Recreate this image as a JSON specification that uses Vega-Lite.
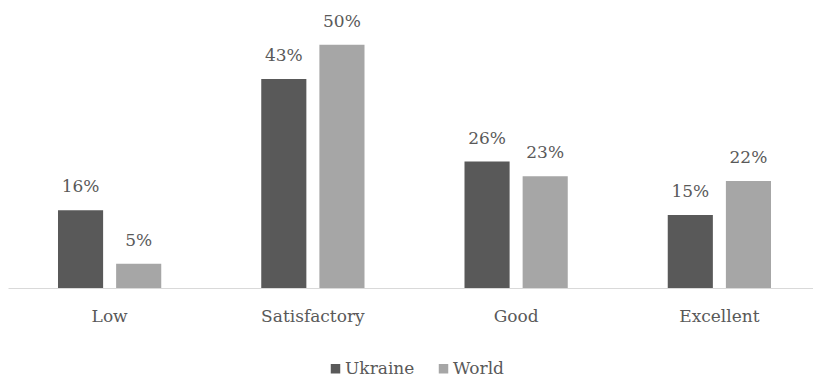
{
  "$schema": "https://vega.github.io/schema/vega-lite/v6.json",
  "autosize": {"type": "none"},
  "width": 813,
  "height": 283,
  "padding": {"left": 8, "top": 5, "right": 0, "bottom": 90},
  "background": "white",
  "config": {
    "view": {"stroke": null},
    "font": "DejaVu Serif",
    "text": {"font": "DejaVu Serif"}
  },
  "data": {
    "values": [
      {"level": "Low", "region": "Ukraine", "share": 0.16},
      {"level": "Low", "region": "World", "share": 0.05},
      {"level": "Satisfactory", "region": "Ukraine", "share": 0.43},
      {"level": "Satisfactory", "region": "World", "share": 0.50},
      {"level": "Good", "region": "Ukraine", "share": 0.26},
      {"level": "Good", "region": "World", "share": 0.23},
      {"level": "Excellent", "region": "Ukraine", "share": 0.15},
      {"level": "Excellent", "region": "World", "share": 0.22}
    ]
  },
  "encoding": {
    "x": {
      "field": "level",
      "type": "nominal",
      "sort": ["Low", "Satisfactory", "Good", "Excellent"],
      "scale": {"paddingInner": 0, "paddingOuter": 0},
      "axis": {
        "title": null,
        "labelAngle": 0,
        "ticks": false,
        "domainColor": "#d9d9d9",
        "domainWidth": 1,
        "labelFont": "DejaVu Serif",
        "labelFontSize": 17,
        "labelColor": "#595959",
        "labelPadding": 20
      }
    },
    "xOffset": {
      "field": "region",
      "type": "nominal",
      "scale": {"paddingInner": 0.224, "paddingOuter": 0.86}
    },
    "y": {
      "field": "share",
      "type": "quantitative",
      "scale": {"domain": [0, 0.582], "nice": false, "zero": true},
      "axis": null
    }
  },
  "layer": [
    {
      "mark": {"type": "bar"},
      "encoding": {
        "color": {
          "field": "region",
          "type": "nominal",
          "scale": {"domain": ["Ukraine", "World"], "range": ["#595959", "#a6a6a6"]},
          "legend": {
            "title": null,
            "orient": "none",
            "direction": "horizontal",
            "legendX": 319,
            "legendY": 355,
            "symbolType": "square",
            "symbolSize": 90,
            "symbolStrokeWidth": 0,
            "labelFont": "DejaVu Serif",
            "labelFontSize": 17,
            "labelColor": "#595959",
            "labelOffset": 1,
            "columnPadding": 20
          }
        }
      }
    },
    {
      "mark": {"type": "text", "baseline": "bottom", "dy": -14, "fontSize": 17, "color": "#595959", "font": "DejaVu Serif"},
      "encoding": {
        "text": {"field": "share", "type": "quantitative", "format": ".0%"}
      }
    }
  ]
}
